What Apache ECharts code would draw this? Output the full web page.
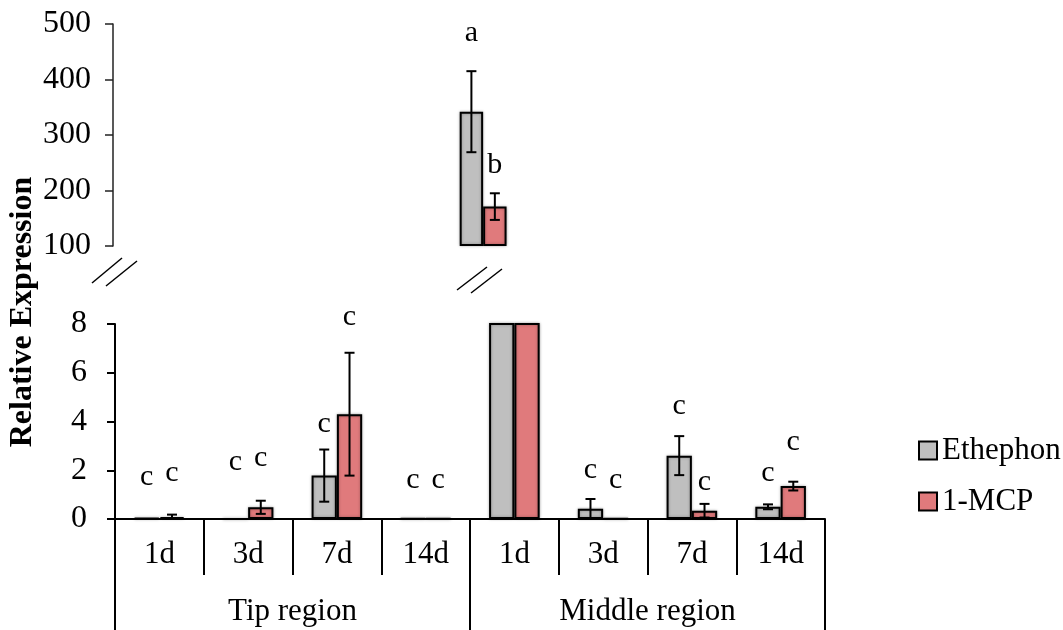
<!DOCTYPE html>
<html>
<head>
<meta charset="utf-8">
<script src="https://cdn.jsdelivr.net/npm/echarts@6/dist/echarts.min.js"></script>
<style>html,body{margin:0;padding:0;background:#fff;}#c{width:1063px;height:630px;}</style>
</head>
<body>
<div id="c"></div>
<script>
// ---- data ----
const days = ['1d', '3d', '7d', '14d', '1d', '3d', '7d', '14d'];
const regions = ['Tip region', 'Middle region'];
const seriesNames = ['Ethephon', '1-MCP'];
const ethephon = [0.04, 0.01, 1.78, 0.02, 342, 0.42, 2.6, 0.5];
const ethephonErr = [0, 0, 1.07, 0, 73, 0.4, 0.8, 0.1];
const mcp = [0.08, 0.48, 4.3, 0.02, 171, 0.02, 0.34, 1.35];
const mcpErr = [0.1, 0.27, 2.52, 0, 24, 0, 0.28, 0.18];
const lettersE = ['c', 'c', 'c', 'c', 'a', 'c', 'c', 'c'];
const lettersM = ['c', 'c', 'c', 'c', 'b', 'c', 'c', 'c'];
const letterYE = [1.73, 2.35, 3.9, 1.6, 484, 2.0, 4.63, 1.87];
const letterYM = [1.89, 2.5, 8.3, 1.6, 246, 1.6, 1.53, 3.17];
const topTicks = { min: 100, max: 500, interval: 100 };
const bottomTicks = { min: 0, max: 8, interval: 2 };
const BREAK = 100;

// ---- style ----
const FONT = '"Liberation Serif", "Times New Roman", serif';
const GAP = 0.43;
const colors = ['#BFBFBF', '#E07A7C'];

const chart = echarts.init(document.getElementById('c'), null, { renderer: 'canvas' });

function errRender(sIdx) {
  return function (params, api) {
    const i = api.value(0), v = api.value(1), e = api.value(2);
    if (!(e > 0)) return null;
    const cw = api.size([1, 0])[0];
    const bw = cw * (1 - GAP) / 2;
    const dx = (sIdx === 0 ? -0.5 : 0.5) * bw;
    const pt = api.coord([i, v + e]);
    const pb = api.coord([i, v - e]);
    const x = pt[0] + dx;
    const st = { stroke: '#000', lineWidth: 2 };
    return {
      type: 'group',
      children: [
        { type: 'line', shape: { x1: x, y1: pt[1], x2: x, y2: pb[1] }, style: st },
        { type: 'line', shape: { x1: x - 5, y1: pt[1], x2: x + 5, y2: pt[1] }, style: st },
        { type: 'line', shape: { x1: x - 5, y1: pb[1], x2: x + 5, y2: pb[1] }, style: st }
      ]
    };
  };
}
function letterRender(sIdx) {
  return function (params, api) {
    const i = api.value(0), y = api.value(1);
    const txt = (sIdx === 0 ? lettersE : lettersM)[i];
    const cw = api.size([1, 0])[0];
    const bw = cw * (1 - GAP) / 2;
    const dx = (sIdx === 0 ? -0.5 : 0.5) * bw;
    const p = api.coord([i, y]);
    return {
      type: 'text',
      style: { text: txt, x: p[0] + dx, y: p[1], align: 'center', verticalAlign: 'middle',
        font: '30px ' + FONT, fill: '#000' }
    };
  };
}

function panelData(vals, errs, top) {
  return vals.map((v, i) => [i, v, errs[i]]).filter(d => top ? d[1] >= BREAK : d[1] < BREAK);
}
function letterData(ys, top) {
  return ys.map((y, i) => [i, y]).filter(d => top ? d[1] >= BREAK : d[1] < BREAK);
}

const barStyle = (c) => ({ color: c, borderColor: '#000', borderWidth: 2,
  shadowBlur: 3, shadowColor: 'rgba(0,0,0,0.3)' });

const series = [];
[ethephon, mcp].forEach((vals, s) => {
  series.push({
    name: seriesNames[s], type: 'bar', xAxisIndex: 0, yAxisIndex: 0,
    barGap: '0%', barCategoryGap: (GAP * 100) + '%', clip: true,
    data: vals.map(v => v >= BREAK ? v : '-'),
    itemStyle: barStyle(colors[s])
  });
});
[ethephon, mcp].forEach((vals, s) => {
  series.push({
    name: seriesNames[s], type: 'bar', xAxisIndex: 1, yAxisIndex: 1,
    barGap: '0%', barCategoryGap: (GAP * 100) + '%', clip: true,
    data: vals,
    itemStyle: barStyle(colors[s])
  });
});
[[ethephon, ethephonErr], [mcp, mcpErr]].forEach((pair, s) => {
  series.push({ type: 'custom', xAxisIndex: 0, yAxisIndex: 0, z: 5, clip: false,
    renderItem: errRender(s), data: panelData(pair[0], pair[1], true) });
  series.push({ type: 'custom', xAxisIndex: 1, yAxisIndex: 1, z: 5, clip: true,
    renderItem: errRender(s), data: panelData(pair[0], pair[1], false) });
});
[letterYE, letterYM].forEach((ys, s) => {
  series.push({ type: 'custom', xAxisIndex: 0, yAxisIndex: 0, z: 6, clip: false,
    renderItem: letterRender(s), data: letterData(ys, true) });
  series.push({ type: 'custom', xAxisIndex: 1, yAxisIndex: 1, z: 6, clip: false,
    renderItem: letterRender(s), data: letterData(ys, false) });
});

const yAxisCommon = {
  type: 'value',
  axisLine: { show: true, lineStyle: { color: '#000', width: 2 } },
  axisTick: { show: true, length: 8, lineStyle: { color: '#000', width: 2 } },
  splitLine: { show: false },
  axisLabel: { fontFamily: FONT, fontSize: 32, color: '#000' }
};

const option = {
  animation: false,
  backgroundColor: '#fff',
  grid: [
    { left: 113, top: 24, width: 658, height: 222 },
    { left: 115, top: 324, width: 710, height: 195 }
  ],
  xAxis: [
    { type: 'category', gridIndex: 0, data: days, axisLine: { show: false },
      axisTick: { show: false }, axisLabel: { show: false } },
    { type: 'category', gridIndex: 1, data: days, position: 'bottom',
      axisLine: { show: true, lineStyle: { color: '#000', width: 2 } },
      axisTick: { show: true, length: 56, interval: 0, lineStyle: { color: '#000', width: 2 } },
      axisLabel: { fontFamily: FONT, fontSize: 31, color: '#000', margin: 20, interval: 0 } },
    { type: 'category', gridIndex: 1, data: regions, position: 'bottom',
      axisLine: { show: false },
      axisTick: { show: true, length: 111, interval: 0, lineStyle: { color: '#000', width: 2 } },
      axisLabel: { fontFamily: FONT, fontSize: 31, color: '#000', margin: 77, interval: 0 } }
  ],
  yAxis: [
    Object.assign({}, yAxisCommon, { gridIndex: 0, min: topTicks.min, max: topTicks.max,
      interval: topTicks.interval, startValue: topTicks.min,
      axisLine: { show: true, lineStyle: { color: '#222', width: 1.5 } },
      axisTick: { show: true, length: 8, lineStyle: { color: '#222', width: 1.5 } },
      axisLabel: { fontFamily: FONT, fontSize: 32, color: '#000', margin: 22 } }),
    Object.assign({}, yAxisCommon, { gridIndex: 1, min: bottomTicks.min, max: bottomTicks.max,
      interval: bottomTicks.interval,
      axisLabel: { fontFamily: FONT, fontSize: 32, color: '#000', margin: 28 } })
  ],
  legend: {
    data: seriesNames, orient: 'vertical', left: 913, top: 430,
    itemWidth: 18, itemHeight: 18, itemGap: 20, icon: 'rect',
    textStyle: { fontFamily: FONT, fontSize: 31, color: '#000' }
  },
  graphic: [
    { type: 'text', x: 23, y: 312, rotation: Math.PI / 2,
      style: { text: 'Relative Expression', font: 'bold 32px ' + FONT, fill: '#000',
        align: 'center', verticalAlign: 'middle' } },
    { type: 'line', shape: { x1: 92, y1: 283, x2: 122, y2: 258 }, style: { stroke: '#000', lineWidth: 1.5 } },
    { type: 'line', shape: { x1: 106, y1: 286, x2: 137, y2: 261 }, style: { stroke: '#000', lineWidth: 1.5 } },
    { type: 'line', shape: { x1: 457, y1: 290, x2: 487, y2: 267 }, style: { stroke: '#000', lineWidth: 1.5 } },
    { type: 'line', shape: { x1: 471, y1: 293, x2: 502, y2: 269 }, style: { stroke: '#000', lineWidth: 1.5 } }
  ],
  series: series
};
chart.setOption(option);
</script>
</body>
</html>
